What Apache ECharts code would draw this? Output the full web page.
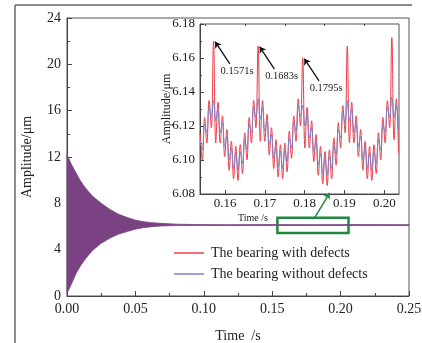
<!DOCTYPE html>
<html>
<head>
<meta charset="utf-8">
<script src="https://cdn.jsdelivr.net/npm/echarts@6/dist/echarts.min.js"></script>
<style>
  html, body { margin: 0; padding: 0; background: #fff; }
  #chart { width: 422px; height: 343px; }
</style>
</head>
<body>
<div id="chart"></div>
<script>
const SERIF = '"Liberation Serif", "DejaVu Serif", serif';

// main plot: envelope of the decaying vibration (both bearings overlap)
const mainTime  = [0, 0.0033, 0.0067, 0.0098, 0.0128, 0.0158, 0.019, 0.025, 0.0312, 0.0373, 0.0435, 0.0496, 0.0557, 0.0618, 0.068, 0.08, 0.093, 0.12, 0.15, 0.18, 0.21, 0.25];
const mainUpper = [12.2, 11.35, 10.6, 9.95, 9.44, 9.0, 8.58, 8.0, 7.49, 7.08, 6.8, 6.56, 6.42, 6.33, 6.28, 6.2, 6.17, 6.16, 6.17, 6.16, 6.17, 6.16];
const mainLower = [0.23, 1.05, 1.96, 2.6, 3.1, 3.55, 3.97, 4.55, 4.98, 5.33, 5.55, 5.76, 5.9, 5.98, 6.04, 6.08, 6.09, 6.08, 6.08, 6.09, 6.08, 6.08];

// inset: zoomed window 0.154 - 0.204 s, samples at ripple extrema
const insetStart = 0.15374;
const insetStep = 0.00056;
const withDefects = [
  6.116, 6.100, 6.125, 6.110, 6.135, 6.119,
  6.170, 6.110, 6.134, 6.110, 6.126, 6.102, 6.118, 6.094, 6.111, 6.089, 6.108, 6.088, 6.109, 6.092, 6.116, 6.100, 6.125, 6.110, 6.135, 6.119,
  6.167, 6.111, 6.135, 6.111, 6.127, 6.103, 6.119, 6.095, 6.112, 6.090, 6.109, 6.089, 6.110, 6.093, 6.117, 6.101, 6.126, 6.111, 6.136, 6.120,
  6.160, 6.107, 6.131, 6.107, 6.123, 6.099, 6.115, 6.091, 6.108, 6.086, 6.105, 6.085, 6.106, 6.089, 6.113, 6.097, 6.122, 6.107, 6.132, 6.116,
  6.167, 6.110, 6.134, 6.110, 6.126, 6.102, 6.118, 6.094, 6.111, 6.089, 6.108, 6.088, 6.109, 6.092, 6.116, 6.100, 6.125, 6.110, 6.135, 6.119,
  6.172, 6.112, 6.136, 6.104
];
const withoutDefects = [
  6.112, 6.106, 6.121, 6.116, 6.131, 6.125,
  6.135, 6.123, 6.130, 6.116, 6.122, 6.108, 6.114, 6.100, 6.107, 6.095, 6.104, 6.094, 6.105, 6.098, 6.112, 6.106, 6.121, 6.116, 6.131, 6.125,
  6.136, 6.124, 6.131, 6.117, 6.123, 6.109, 6.115, 6.101, 6.108, 6.096, 6.105, 6.095, 6.106, 6.099, 6.113, 6.107, 6.122, 6.117, 6.132, 6.126,
  6.132, 6.120, 6.127, 6.113, 6.119, 6.105, 6.111, 6.097, 6.104, 6.092, 6.101, 6.091, 6.102, 6.095, 6.109, 6.103, 6.118, 6.113, 6.128, 6.122,
  6.135, 6.123, 6.130, 6.116, 6.122, 6.108, 6.114, 6.100, 6.107, 6.095, 6.104, 6.094, 6.105, 6.098, 6.112, 6.106, 6.121, 6.116, 6.131, 6.125,
  6.137, 6.125, 6.132, 6.118
];

const peakTimes  = [0.1571, 0.1683, 0.1795];
const peakValues = [6.170, 6.167, 6.160];
const peakLabels = ['0.1571s', '0.1683s', '0.1795s'];

const insetMajorTicks = [0.16, 0.17, 0.18, 0.19, 0.20];
const insetMinorTicks = [0.155, 0.165, 0.175, 0.185, 0.195];

const seriesNames = ['The bearing with defects', 'The bearing without defects'];

const RED = '#ee3b47';
const BLUE = '#7d82c9';
const PURPLE = '#7a4283';
const GREEN = '#1e8a3e';
const AXIS = '#444';

const chart = echarts.init(document.getElementById('chart'));

const toPairs = (arr) => arr.map((v, i) => [insetStart + i * insetStep, v]);

const arrowLines = peakTimes.map((t, i) => [
  { coord: [t + 0.0041, peakValues[i] - 0.0135] },
  { coord: [t + 0.0004, peakValues[i] - 0.0004] }
]);
const arrowLabels = peakTimes.map((t, i) => ({
  coord: [t + 0.0019, peakValues[i] - 0.018],
  value: peakLabels[i]
}));

const axisLabelStyle = { color: '#222', fontFamily: SERIF, fontSize: 14 };

// band between the upper and lower envelope, drawn through the axis scales
function renderEnvelope(params, api) {
  if (params.dataIndex !== 0) return null;
  const top = mainTime.map((t, i) => api.coord([t, mainUpper[i]]));
  const bottom = mainTime.map((t, i) => api.coord([t, mainLower[i]])).reverse();
  return {
    type: 'polygon',
    shape: { points: top.concat(bottom) },
    style: { fill: PURPLE, stroke: PURPLE, lineWidth: 0.8 }
  };
}

const option = {
  animation: false,
  backgroundColor: '#fff',
  graphic: [
    { type: 'line', shape: { x1: 15, y1: 5, x2: 412, y2: 5 }, style: { stroke: '#666', lineWidth: 1.5 } },
    { type: 'line', shape: { x1: 15, y1: 5, x2: 15, y2: 343 }, style: { stroke: '#666', lineWidth: 1.5 } }
  ],
  grid: [
    { left: 67, right: 13, top: 18, bottom: 47, outerBoundsMode: 'none', show: true, borderColor: '#555', borderWidth: 1 },
    { left: 200, right: 23, top: 24, bottom: 149, outerBoundsMode: 'none', show: true, backgroundColor: '#fff', borderColor: '#555', borderWidth: 1 }
  ],
  legend: {
    data: seriesNames,
    orient: 'vertical',
    left: 169,
    top: 240,
    itemWidth: 30,
    itemHeight: 1.5,
    itemGap: 5,
    icon: 'rect',
    textStyle: { color: '#222', fontFamily: SERIF, fontSize: 14, lineHeight: 16, padding: [0, 0, 0, 2] }
  },
  xAxis: [
    {
      gridIndex: 0,
      type: 'value',
      min: 0,
      max: 0.25,
      interval: 0.05,
      name: 'Time  /s',
      nameLocation: 'middle',
      nameGap: 33,
      nameTextStyle: { color: '#222', fontFamily: SERIF, fontSize: 14 },
      axisLine: { lineStyle: { color: AXIS } },
      axisTick: { inside: true, length: 5, lineStyle: { color: AXIS } },
      minorTick: { show: true, splitNumber: 2, length: 3, lineStyle: { color: AXIS } },
      splitLine: { show: false },
      axisLabel: { ...axisLabelStyle, margin: 6, formatter: (v) => v.toFixed(2) }
    },
    {
      gridIndex: 1,
      type: 'value',
      min: 0.1537,
      max: 0.2037,
      name: 'Time /s',
      nameLocation: 'middle',
      nameGap: 19,
      nameTextStyle: { color: '#222', fontFamily: SERIF, fontSize: 10, padding: [0, 93, 0, 0] },
      axisLine: { lineStyle: { color: AXIS } },
      axisTick: { inside: true, length: 4, customValues: insetMajorTicks, lineStyle: { color: AXIS } },
      splitLine: { show: false },
      axisLabel: { color: '#222', fontFamily: SERIF, fontSize: 13, margin: 3, customValues: insetMajorTicks, formatter: (v) => v.toFixed(2) }
    },
    {
      gridIndex: 1,
      type: 'value',
      min: 0.1537,
      max: 0.2037,
      axisLine: { show: false },
      axisTick: { inside: true, length: 2, customValues: insetMinorTicks, lineStyle: { color: AXIS } },
      splitLine: { show: false },
      axisLabel: { show: false }
    }
  ],
  yAxis: [
    {
      gridIndex: 0,
      type: 'value',
      min: 0,
      max: 24,
      interval: 4,
      name: 'Amplitude/μm',
      nameLocation: 'middle',
      nameGap: 33,
      nameTextStyle: { color: '#222', fontFamily: SERIF, fontSize: 14 },
      axisLine: { show: true, lineStyle: { color: AXIS } },
      axisTick: { inside: true, length: 5, lineStyle: { color: AXIS } },
      minorTick: { show: true, splitNumber: 2, length: 3, lineStyle: { color: AXIS } },
      splitLine: { show: false },
      axisLabel: { ...axisLabelStyle, margin: 6 }
    },
    {
      gridIndex: 1,
      type: 'value',
      min: 6.08,
      max: 6.18,
      interval: 0.02,
      name: 'Amplitude/μm',
      nameLocation: 'middle',
      nameGap: 27,
      nameMoveOverlap: false,
      nameTextStyle: { color: '#222', fontFamily: SERIF, fontSize: 12 },
      axisLine: { show: true, lineStyle: { color: AXIS } },
      axisTick: { inside: true, length: 4, lineStyle: { color: AXIS } },
      minorTick: { show: true, splitNumber: 2, length: 2, lineStyle: { color: AXIS } },
      splitLine: { show: false },
      axisLabel: { color: '#222', fontFamily: SERIF, fontSize: 13, margin: 5, formatter: (v) => v.toFixed(2) }
    }
  ],
  series: [
    {
      type: 'custom',
      xAxisIndex: 0,
      yAxisIndex: 0,
      silent: true,
      renderItem: renderEnvelope,
      encode: { x: 0, y: [1, 2] },
      data: mainTime.map((t, i) => [t, mainUpper[i], mainLower[i]]),
      markArea: {
        silent: true,
        itemStyle: { color: 'rgba(0,0,0,0)', borderColor: GREEN, borderWidth: 2.5 },
        data: [[{ coord: [0.1538, 6.75] }, { coord: [0.2058, 5.44] }]]
      },
      markLine: {
        silent: true,
        symbol: ['none', 'arrow'],
        symbolSize: 6,
        label: { show: false },
        lineStyle: { color: GREEN, width: 1.5, type: 'solid' },
        data: [[{ coord: [0.181, 6.75] }, { coord: [0.192, 8.9] }]]
      }
    },
    {
      name: seriesNames[0],
      type: 'line',
      xAxisIndex: 1,
      yAxisIndex: 1,
      smooth: 0.4,
      symbol: 'none',
      itemStyle: { color: RED },
      lineStyle: { color: RED, width: 1 },
      data: toPairs(withDefects),
      markLine: {
        silent: true,
        symbol: ['none', 'arrow'],
        symbolSize: 6,
        label: { show: false },
        lineStyle: { color: '#111', width: 1.3, type: 'solid' },
        data: arrowLines
      },
      markPoint: {
        silent: true,
        symbol: 'rect',
        symbolSize: 1,
        itemStyle: { color: 'rgba(0,0,0,0)' },
        label: {
          show: true,
          position: [0, 0],
          align: 'left',
          verticalAlign: 'middle',
          color: '#222',
          fontFamily: SERIF,
          fontSize: 10.5,
          formatter: (p) => p.value
        },
        data: arrowLabels
      }
    },
    {
      name: seriesNames[1],
      type: 'line',
      xAxisIndex: 1,
      yAxisIndex: 1,
      smooth: 0.4,
      symbol: 'none',
      itemStyle: { color: BLUE },
      lineStyle: { color: BLUE, width: 1 },
      data: toPairs(withoutDefects)
    }
  ]
};

chart.setOption(option);
</script>
</body>
</html>
